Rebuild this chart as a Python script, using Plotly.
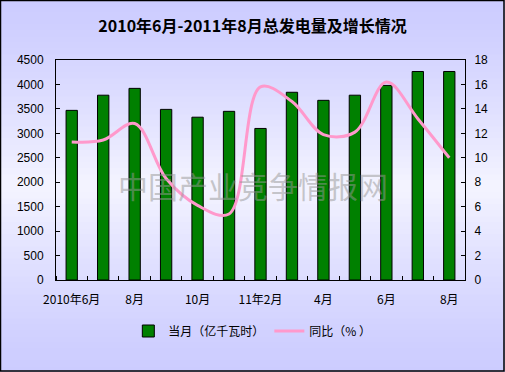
import plotly.graph_objects as go

categories = ["2010年6月", "7月", "8月", "9月", "10月", "11月", "11年2月",
              "3月", "4月", "5月", "6月", "7月 ", "8月 "]
tick_labels = ["2010年6月", "", "8月", "", "10月", "", "11年2月", "", "4月", "", "6月", "", "8月"]
generation = [3470, 3780, 3920, 3490, 3330, 3450, 3100, 3840, 3675, 3780, 3980, 4265, 4265]
growth = [11.3, 11.45, 12.8, 8.3, 6.1, 5.4, 15.8, 14.6, 11.9, 12.1, 16.2, 13.2, 10.0]

W, H = 505, 372
L, R, T, B = 56, 40, 60, 92

x = list(range(len(categories)))

fig = go.Figure()
fig.add_trace(go.Bar(
    x=x, y=generation, name="当月（亿千瓦时）", width=0.36,
    marker=dict(color="#008000", line=dict(color="#000000", width=1)),
))
fig.add_trace(go.Scatter(
    x=x, y=growth, name="同比（% ）", yaxis="y2", mode="lines",
    line=dict(color="#ff99cc", width=3, shape="spline", smoothing=1.0),
))

# background gradient (vertical, lighter in middle)
shapes = []
n = 62
top = (204, 204, 255)
mid = (244, 244, 255)
pw, ph = W - L - R, H - T - B
for i in range(n):
    y0 = i / n
    y1 = (i + 1) / n
    c = (y0 + y1) / 2
    t = 1 - min(1, abs(c - 0.5) / 0.5)
    t = t ** 1.3
    col = tuple(int(round(top[k] + (mid[k] - top[k]) * t)) for k in range(3))
    shapes.append(dict(type="rect", xref="paper", yref="paper", layer="below",
                       x0=-L / pw - 0.01, x1=1 + R / pw + 0.01,
                       y0=-B / ph + (H / ph) * y0 - 0.001,
                       y1=-B / ph + (H / ph) * y1 + 0.001,
                       fillcolor="rgb(%d,%d,%d)" % col, line=dict(width=0)))
# outer border
shapes.append(dict(type="rect", xref="paper", yref="paper", layer="above",
                   x0=(-L + 0.5) / pw, x1=(W - L - 1) / pw,
                   y0=(-B + 1) / ph, y1=(H - B - 0.5) / ph,
                   line=dict(color="#000000", width=1.5)))

fig.update_layout(
    width=W, height=H,
    margin=dict(l=L, r=R, t=T, b=B, pad=0),
    paper_bgcolor="#ccccff",
    plot_bgcolor="#ffffff",
    shapes=shapes,
    title=dict(text="<b>2010年6月-2011年8月总发电量及增长情况</b>",
               x=0.5, xanchor="center", y=1 - 26.5 / H, yanchor="middle",
               font=dict(family="Noto Sans CJK SC", size=16, color="#000000")),
    font=dict(family="Liberation Sans", size=12, color="#000000"),
    showlegend=True,
    legend=dict(orientation="h", x=0.48, xanchor="center", y=-(331 - 280) / ph, yanchor="middle",
                bgcolor="rgba(0,0,0,0)", itemwidth=30,
                font=dict(family="Noto Sans CJK SC", size=12, color="#000000")),
    xaxis=dict(range=[-0.5, len(categories) - 0.5], tickmode="array", tickvals=x,
               ticktext=tick_labels, ticks="", showline=True, linecolor="#000000",
               linewidth=1, mirror=True, showgrid=False, zeroline=False,
               ticklabelstandoff=9,
               tickfont=dict(family="Noto Sans CJK SC", size=12),
               minor=dict(tick0=0.5, dtick=1, ticks="inside", ticklen=4,
                          tickcolor="#000000", tickwidth=1, showgrid=False)),
    yaxis=dict(range=[0, 4500], dtick=500, ticks="inside", ticklen=4, tickcolor="#000000",
               showline=True, linecolor="#000000", linewidth=1, showgrid=False,
               ticklabelstandoff=9,
               zeroline=False, tickfont=dict(size=12)),
    yaxis2=dict(range=[0, 18], dtick=2, ticks="inside", ticklen=4, tickcolor="#000000",
                overlaying="y", side="right", showline=True, linecolor="#000000",
                linewidth=1, showgrid=False, zeroline=False, ticklabelstandoff=6,
                tickfont=dict(size=12)),
    annotations=[dict(text="中国产业竞争情报网", xref="paper", yref="paper",
                      x=(252.5 - L) / pw, y=(280 - 185) / ph, showarrow=False,
                      font=dict(family="Noto Sans CJK SC", size=30,
                                color="rgba(150,150,150,0.5)"))],
)

fig.write_html("out.html")
